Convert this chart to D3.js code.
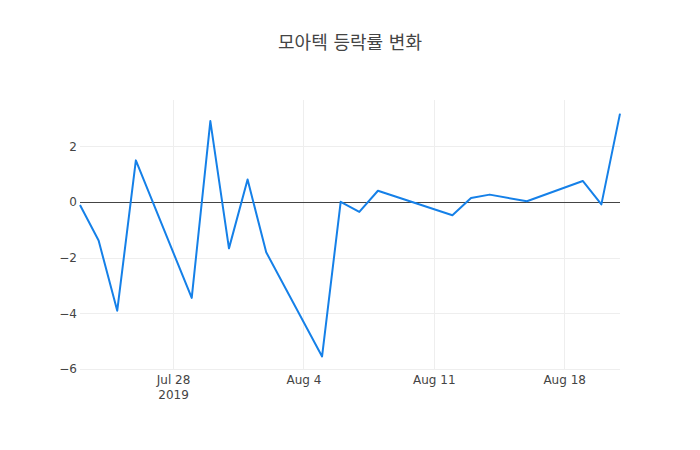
<!DOCTYPE html>
<html>
<head>
<meta charset="utf-8">
<script src="https://cdn.jsdelivr.net/npm/d3@7"></script>
<style>
  body { margin: 0; background: #fff; }
  svg text { font-family: "DejaVu Sans", verdana, arial, sans-serif; }
</style>
</head>
<body>
<div id="wrapper"></div>
<script>
// 데이터
const dates = [
  "2019-07-23", "2019-07-24", "2019-07-25", "2019-07-26", "2019-07-29",
  "2019-07-30", "2019-07-31", "2019-08-01", "2019-08-02", "2019-08-05",
  "2019-08-06", "2019-08-07", "2019-08-08", "2019-08-12", "2019-08-13",
  "2019-08-14", "2019-08-16", "2019-08-19", "2019-08-20", "2019-08-21"
]
const changes = [
  -0.11, -1.39, -3.91, 1.49, -3.45,
  2.9, -1.67, 0.8, -1.81, -5.55,
  0.0, -0.36, 0.4, -0.48, 0.14,
  0.26, 0.02, 0.75, -0.09, 3.17
]
const xTickDates = ["2019-07-28", "2019-08-04", "2019-08-11", "2019-08-18"]
const yTicks = [-6, -4, -2, 0, 2]
const titleText = "모아텍 등락률 변화"

const dateParser = d3.utcParse("%Y-%m-%d")
const dataset = dates.map((d, i) => ({ date: dateParser(d), value: changes[i] }))
const xAccessor = d => d.date
const yAccessor = d => d.value

let dimensions = {
  width: 700,
  height: 450,
  margin: { top: 100, right: 80, bottom: 80, left: 80 },
}
dimensions.boundedWidth = dimensions.width - dimensions.margin.left - dimensions.margin.right
dimensions.boundedHeight = dimensions.height - dimensions.margin.top - dimensions.margin.bottom

const wrapper = d3.select("#wrapper")
  .append("svg")
    .attr("width", dimensions.width)
    .attr("height", dimensions.height)

// 제목
wrapper.append("text")
  .attr("x", dimensions.width / 2)
  .attr("y", 49)
  .attr("text-anchor", "middle")
  .attr("fill", "#444")
  .style("font-size", "18px")
  .style("font-family", "'DejaVu Sans', 'Noto Sans CJK KR', sans-serif")
  .text(titleText)

const bounds = wrapper.append("g")
  .attr("transform", `translate(${dimensions.margin.left},${dimensions.margin.top})`)

// scale (plotly식 여백 포함)
const extent = d3.extent(dataset, yAccessor)
const pad = (extent[1] - extent[0]) * 0.056
const yScale = d3.scaleLinear()
  .domain([extent[0] - pad, extent[1] + pad])
  .range([dimensions.boundedHeight, 0])

const xScale = d3.scaleUtc()
  .domain(d3.extent(dataset, xAccessor))
  .range([0, dimensions.boundedWidth])

// 격자
bounds.append("g")
  .selectAll("line")
  .data(yTicks.filter(t => t !== 0))
  .join("line")
    .attr("x1", 0)
    .attr("x2", dimensions.boundedWidth)
    .attr("y1", d => Math.round(yScale(d)) + 0.5)
    .attr("y2", d => Math.round(yScale(d)) + 0.5)
    .attr("stroke", "#eee")

const xTicks = xTickDates.map(dateParser)
bounds.append("g")
  .selectAll("line")
  .data(xTicks)
  .join("line")
    .attr("x1", d => Math.round(xScale(d)) + 0.5)
    .attr("x2", d => Math.round(xScale(d)) + 0.5)
    .attr("y1", 0)
    .attr("y2", dimensions.boundedHeight)
    .attr("stroke", "#eee")

// 0 기준선
const zeroY = Math.round(yScale(0)) + 0.5
bounds.append("line")
  .attr("x1", 0)
  .attr("x2", dimensions.boundedWidth)
  .attr("y1", zeroY)
  .attr("y2", zeroY)
  .attr("stroke", "#444")
  .attr("stroke-width", 1)

// 라인
const lineGenerator = d3.line()
  .x(d => xScale(xAccessor(d)))
  .y(d => yScale(yAccessor(d)))

bounds.append("path")
  .attr("d", lineGenerator(dataset))
  .attr("fill", "none")
  .attr("stroke", "#1580e8")
  .attr("stroke-width", 2)
  .attr("stroke-linejoin", "round")

// y축
const yAxisGenerator = d3.axisLeft(yScale)
  .tickValues(yTicks)
  .tickSize(0)
  .tickPadding(3)
  .tickFormat(d => d < 0 ? "\u2212" + Math.abs(d) : d)
const yAxis = bounds.append("g").call(yAxisGenerator)
yAxis.select(".domain").remove()
yAxis.selectAll("text")
  .attr("fill", "#444")
  .style("font-size", "12px")

// x축
const xFormat = d3.utcFormat("%b %-d")
const xAxisGenerator = d3.axisBottom(xScale)
  .tickValues(xTicks)
  .tickSize(0)
  .tickPadding(0)
  .tickFormat(xFormat)
const xAxis = bounds.append("g")
  .attr("transform", `translate(0,${dimensions.boundedHeight})`)
  .call(xAxisGenerator)
xAxis.select(".domain").remove()
xAxis.selectAll("text")
  .attr("fill", "#444")
  .attr("dy", null)
  .attr("y", 14)
  .style("font-size", "12px")
  .each(function(d, i) {
    if (i === 0) {
      d3.select(this).append("tspan")
        .attr("x", 0)
        .attr("dy", 15)
        .text(d3.utcFormat("%Y")(d))
    }
  })
</script>
</body>
</html>
